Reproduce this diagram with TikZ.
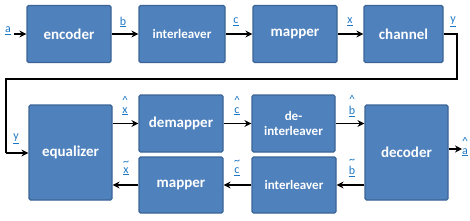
\documentclass[tikz,border=0pt]{standalone}
\usepackage{fontspec}
\setmainfont{Carlito}
\usetikzlibrary{arrows.meta}
\definecolor{boxfill}{HTML}{4F81BD}
\definecolor{boxline}{HTML}{3A6496}
\definecolor{labblue}{HTML}{1F78C4}
\newcommand{\lab}[1]{\underline{#1}}
\newcommand{\acclab}[2]{\shortstack[c]{#1\\[-0.5pt]\underline{#2}}}
\tikzset{
  blk/.style={draw=boxline, line width=1.2pt, fill=boxfill, rounded corners=1.5pt,
    text=white, font=\bfseries\fontsize{15}{16}\selectfont, align=center,
    inner sep=0pt, minimum width=84pt, minimum height=57pt},
  small/.style={font=\bfseries\fontsize{13}{14.5}\selectfont},
  conn/.style={line width=1.6pt, -{Stealth[length=7pt,width=7pt]}},
  wire/.style={line width=1.6pt},
  lbl/.style={text=labblue, font=\fontsize{12}{12}\selectfont, inner sep=0pt}
}
\begin{document}
\begin{tikzpicture}[x=1pt,y=-1pt]
\useasboundingbox (0,0) rectangle (470,220);
% top row
\node[blk] (enc) at (69,34) {encoder};
\node[blk,small,minimum width=86pt] (il1) at (182,34) {interleaver};
\node[blk] (map1) at (295,34) {mapper};
\node[blk,minimum width=79pt] (chan) at (403.5,34) {channel};
% bottom
\node[blk,minimum width=83pt,minimum height=95pt] (eq) at (70.5,152.5) {equalizer};
\node[blk] (demap) at (181,123.5) {demapper};
\node[blk,minimum height=56pt] (map2) at (181,185) {mapper};
\node[blk,small,minimum width=83pt] (deil) at (293.5,123.5) {de-\\interleaver};
\node[blk,small,minimum height=56pt] (il2) at (294,185) {interleaver};
\node[blk,minimum width=83pt,minimum height=95pt] (dec) at (406.5,152.5) {decoder};
% coordinates
\coordinate (ain) at (14,34);
\coordinate (r1) at (457,34);
\coordinate (r2) at (457,79);
\coordinate (r3) at (6,79);
\coordinate (r4) at (6,153);
\coordinate (aout) at (462,149);
% connectors
\draw[conn] (ain) -- (enc.west);
\draw[conn] (enc) -- (il1);
\draw[conn] (il1) -- (map1);
\draw[conn] (map1) -- (chan);
\draw[wire] (chan.east) -- (r1) -- (r2) -- (r3) -- (r4);
\draw[conn] (r4) -- (eq.west |- r4);
\draw[conn] (eq.east |- demap) -- (demap.west);
\draw[conn] (demap) -- (deil);
\draw[conn] (deil.east) -- (dec.west |- deil);
\draw[conn] (dec.east |- aout) -- (aout);
\draw[conn] (dec.west |- il2) -- (il2.east);
\draw[conn] (il2) -- (map2);
\draw[conn] (map2.west) -- (eq.east |- map2);
% labels
\node[lbl] (la) at (8,31) {\lab{a}};
\node[lbl] (lb) at (123,22) {\lab{b}};
\node[lbl] (lc) at (236,22) {\lab{c}};
\node[lbl] (lx) at (350,22) {\lab{x}};
\node[lbl] (ly) at (453,22) {\lab{y}};
\node[lbl] (ly2) at (16,139) {\lab{y}};
\node[lbl] (lxh) at (125,106) {\acclab{\textasciicircum}{x}};
\node[lbl] (lch) at (237,106) {\acclab{\textasciicircum}{c}};
\node[lbl] (lbh) at (352,106) {\acclab{\textasciicircum}{b}};
\node[lbl] (lxt) at (126,168) {\acclab{\textasciitilde}{x}};
\node[lbl] (lct) at (237,168) {\acclab{\textasciitilde}{c}};
\node[lbl] (lbt) at (352,168) {\acclab{\textasciitilde}{b}};
\node[lbl] (lah) at (465,147) {\acclab{\textasciicircum}{a}};
\end{tikzpicture}
\end{document}
